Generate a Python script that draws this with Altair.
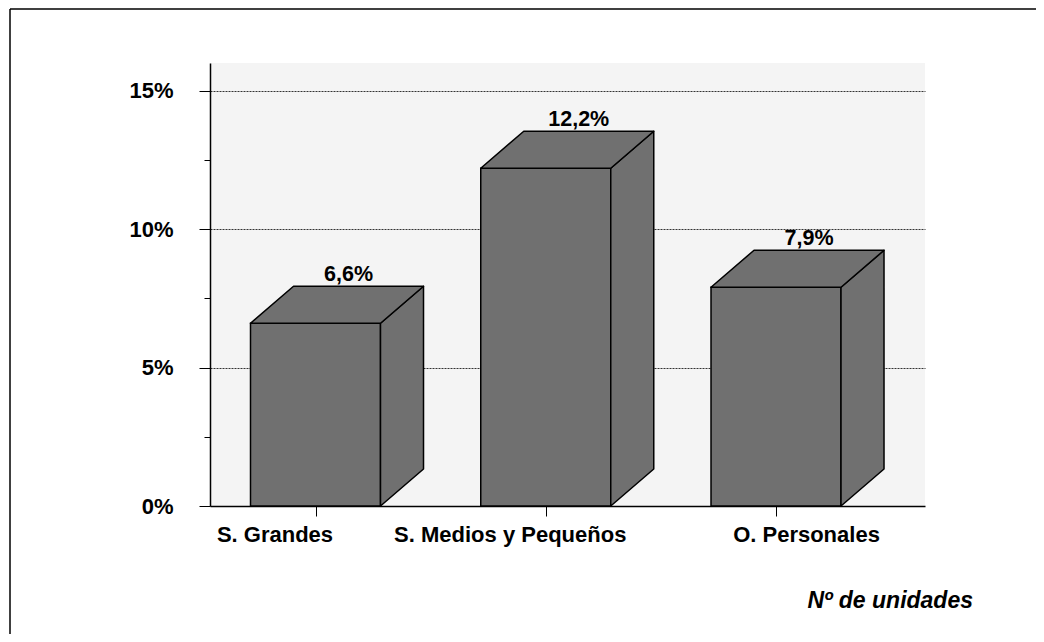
import json
import altair as alt
import pandas as pd

# ---- data ----
categories = ["S. Grandes", "S. Medios y Pequeños", "O. Personales"]
values = [6.6, 12.2, 7.9]
value_labels = ["6,6%", "12,2%", "7,9%"]
y_ticks = [0, 2.5, 5, 7.5, 10, 12.5, 15]
x_note = "Nº de unidades"

# ---- 3D bar geometry (in scale units) ----
HW = 0.2823   # half width of front face (category units)
DX = 0.1868   # depth shift in x (category units)
DY = 1.337    # depth shift in y (percent units)
BAR = "#707070"
FONT = "Liberation Sans"
FS_AXIS = 22
FS_LAB = 21.5
FS_NOTE = 23

idx = list(range(len(categories)))
front = pd.DataFrame({
    "i": idx, "cat": categories, "v": values, "lab": value_labels,
})
front["xl"] = front["i"] - HW
front["xr"] = front["i"] + HW
front["vb"] = front["v"] + DY

side_rows, top_rows = [], []
for i, c, v in zip(idx, categories, values):
    side_rows.append({"cat": c, "x": i + HW, "y": 0.0, "y2": v})
    side_rows.append({"cat": c, "x": i + HW + DX, "y": DY, "y2": v + DY})
    top_rows.append({"cat": c, "y": v, "x": i - HW, "x2": i + HW})
    top_rows.append({"cat": c, "y": v + DY, "x": i - HW + DX, "x2": i + HW + DX})
side = pd.DataFrame(side_rows)
top = pd.DataFrame(top_rows)

xscale = alt.Scale(domain=[-0.4582, 2.6471], nice=False, zero=False)
yscale = alt.Scale(domain=[0, 16], nice=False)

cat_js = json.dumps(categories, ensure_ascii=False)

x_axis = alt.Axis(
    values=idx, title=None, grid=False, labelLimit=0,
    labelExpr=f"{cat_js}[datum.value]",
    labelFont=FONT, labelFontSize=FS_AXIS, labelFontWeight="bold", labelColor="black",
    labelPadding=8, tickSize=10, tickColor="black", domainColor="black",
    domainWidth=1.5,
    labelOffset={"condition": [{"test": "datum.value == 0", "value": -41},
                               {"test": "datum.value == 1", "value": -36}],
                 "value": 30},
)
y_axis = alt.Axis(
    values=y_ticks, title=None, labelLimit=0,
    labelExpr="datum.value % 5 == 0 ? datum.value + '%' : ''",
    labelFont=FONT, labelFontSize=FS_AXIS, labelFontWeight="bold", labelColor="black",
    labelPadding=26, tickColor="black", domainColor="black", domainWidth=1.5,
    tickSize={"condition": {"test": "datum.value % 5 != 0", "value": 6}, "value": 11},
    gridColor="#333333", gridDash=[2, 1], gridWidth=1,
    gridOpacity={"condition": {"test": "datum.value % 5 != 0 || datum.value == 0", "value": 0},
                 "value": 1},
)

base_front = alt.Chart(front)

front_face = base_front.mark_rect(fill=BAR, stroke="black", strokeWidth=1.5).encode(
    x=alt.X("xl:Q", scale=xscale, axis=x_axis),
    x2="xr:Q",
    y=alt.Y("v:Q", scale=yscale, axis=y_axis),
    y2=alt.datum(0),
)

side_face = alt.Chart(side).mark_area(
    fill=BAR, stroke="black", strokeWidth=1.5, opacity=1, strokeJoin="round"
).encode(
    x=alt.X("x:Q", scale=xscale),
    y=alt.Y("y:Q", scale=yscale),
    y2="y2:Q",
    detail="cat:N",
)

top_face = alt.Chart(top).mark_area(
    orient="horizontal", fill=BAR, stroke="black", strokeWidth=1.5, opacity=1,
    strokeJoin="round"
).encode(
    y=alt.Y("y:Q", scale=yscale),
    x=alt.X("x:Q", scale=xscale),
    x2="x2:Q",
    detail="cat:N",
)

bar_labels = base_front.mark_text(
    font=FONT, fontSize=FS_LAB, fontWeight="bold", color="black",
    baseline="alphabetic", align="center", dx=33, dy=-5,
).encode(
    x=alt.X("i:Q", scale=xscale),
    y=alt.Y("vb:Q", scale=yscale),
    text="lab:N",
)

one = alt.Chart(pd.DataFrame({"a": [0]}))
note = one.mark_text(
    font=FONT, fontSize=FS_NOTE, fontWeight="bold", fontStyle="italic", color="black",
    align="right", baseline="alphabetic",
).encode(x=alt.value(763), y=alt.value(545), text=alt.value(x_note))

border_left = one.mark_rule(color="black", strokeWidth=1.5).encode(
    x=alt.value(-200), y=alt.value(-54), y2=alt.value(575))
border_top = one.mark_rule(color="black", strokeWidth=1.5).encode(
    x=alt.value(-200), x2=alt.value(830), y=alt.value(-54))

chart = alt.layer(
    front_face, side_face, top_face, bar_labels, note, border_left, border_top
).properties(
    width=715, height=443,
    autosize=alt.AutoSizeParams(type="none"),
    padding={"left": 202, "top": 55, "right": 111, "bottom": 128},
    background="white",
).configure_view(
    fill="#f4f4f4", stroke=None,
)

chart.save("out.html", embed_options={"renderer": "svg", "actions": False})
